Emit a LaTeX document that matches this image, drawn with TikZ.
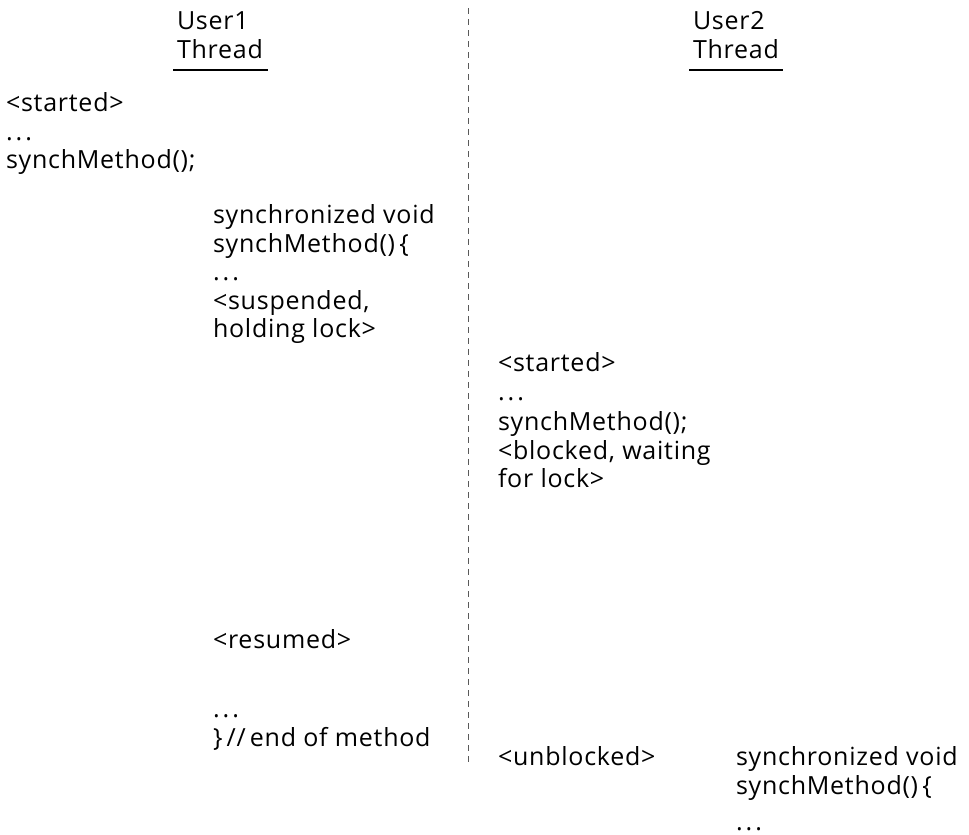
\documentclass[tikz,border=0pt]{standalone}
\usepackage{fontspec}
\setmainfont{Open Sans}[LetterSpace=3]
\newcommand\wdots{.\kern3pt.\kern3pt.}
\begin{document}
\begin{tikzpicture}[x=1pt,y=-1pt,
  txt/.style={anchor=north west,inner sep=0pt,outer sep=0pt,align=left,
    font=\fontsize{25}{28.5}\selectfont},
  lifeline/.style={draw=black!65,line width=0.8pt,dash pattern=on 6pt off 5pt},
  headrule/.style={draw=black,line width=1.1pt}]
\useasboundingbox (0,0) rectangle (969,835);
% headers
\node[txt] (u1) at (177,10) {\strut User1\\Thread};
\node[txt] (u2) at (693,10) {\strut User2\\Thread};
\coordinate (u1l) at (173,70); \coordinate (u1r) at (268,70);
\coordinate (u2l) at (689,70); \coordinate (u2r) at (783,70);
\draw[headrule] (u1l) -- (u1r);
\draw[headrule] (u2l) -- (u2r);
% separator
\coordinate (sepTop) at (468,8);
\coordinate (sepBot) at (468,765);
\draw[lifeline] (sepTop) -- (sepBot);
% user 1
\node[txt] (c) at (6,92) {\strut <started>\\\wdots\\synchMethod();};
\node[txt] (d) at (213,204) {\strut synchronized void\\synchMethod()\,\{\\\wdots\\<suspended,\\holding lock>};
\node[txt] (f) at (213,629) {\strut <resumed>};
\node[txt] (g) at (213,698) {\strut \wdots\\\}\,//\,end of method};
% user 2
\node[txt] (e) at (498,352) {\strut <started>\\\wdots\\[2pt]synchMethod();\\<blocked, waiting\\for lock>};
\node[txt] (h) at (498,746) {\strut <unblocked>};
\node[txt] (i) at (736,746) {\strut synchronized void\\synchMethod()\,\{\\[8pt]\wdots};
\end{tikzpicture}
\end{document}
